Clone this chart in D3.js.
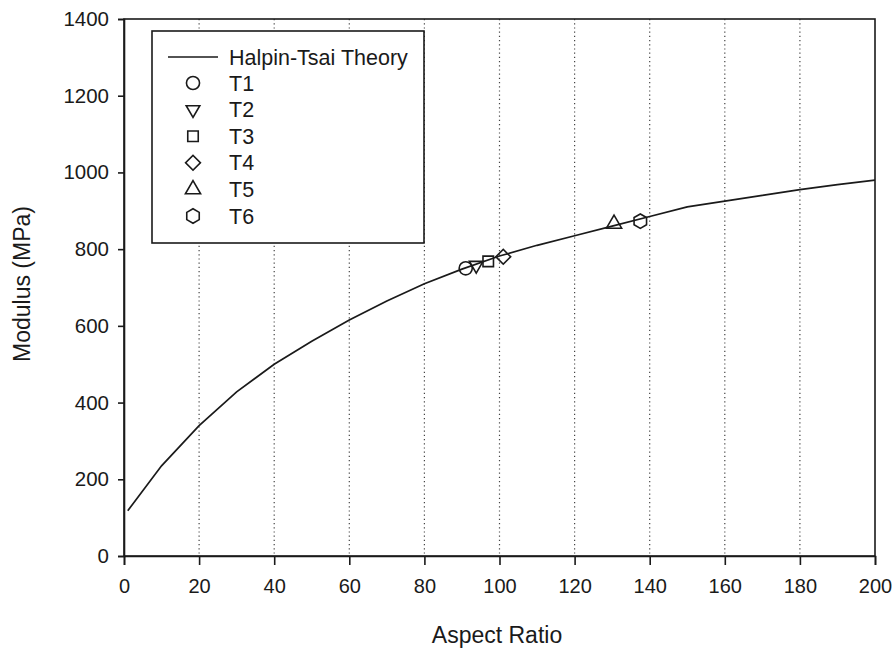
<!DOCTYPE html>
<html>
<head>
<meta charset="utf-8">
<script src="https://cdn.jsdelivr.net/npm/d3@7"></script>
<style>
  body { margin: 0; background: #fff; }
  text { font-family: "Liberation Sans", Arial, sans-serif; fill: #1a1a1a; }
</style>
</head>
<body>
<div class="chart"></div>
<script>
// Halpin-Tsai theory curve (aspect ratio -> modulus, MPa)
const theoryX = [1, 10, 20, 30, 40, 50, 60, 70, 80, 90, 100, 110, 120, 130, 140, 150, 160, 170, 180, 190, 200]
const theoryY = [118, 235, 340, 428, 500, 560, 615, 665, 710, 748, 782, 810, 835, 860, 885, 910, 925, 940, 955, 968, 980]

// measured samples
const sampleNames = ["T1", "T2", "T3", "T4", "T5", "T6"]
const sampleX = [91, 93.8, 97, 101, 130.5, 137.5]
const sampleY = [750, 758, 768, 780, 866, 873]

const xTicks = [0, 20, 40, 60, 80, 100, 120, 140, 160, 180, 200]
const yTicks = [0, 200, 400, 600, 800, 1000, 1200, 1400]

const width = 894
const height = 650
const margin = { top: 19, right: 20, bottom: 94, left: 124 }

const svg = d3
  .select(".chart")
  .append("svg")
  .attr("width", width)
  .attr("height", height)

const x = d3.scaleLinear().domain([0, 200]).range([margin.left, width - margin.right + 1])
const y = d3.scaleLinear().domain([0, 1400]).range([height - margin.bottom, margin.top])

// dotted vertical grid
svg
  .append("g")
  .selectAll("line")
  .data(xTicks.slice(1, -1))
  .join("line")
  .attr("x1", (d) => x(d))
  .attr("x2", (d) => x(d))
  .attr("y1", y(1400))
  .attr("y2", y(0))
  .attr("stroke", "#444")
  .attr("stroke-width", 1.2)
  .attr("stroke-dasharray", "1.2,3")

// frame
svg
  .append("rect")
  .attr("x", x(0))
  .attr("y", y(1400))
  .attr("width", x(200) - x(0))
  .attr("height", y(0) - y(1400))
  .attr("fill", "none")
  .attr("stroke", "#1a1a1a")
  .attr("stroke-width", 1.6)

// axes
const xAxis = svg
  .append("g")
  .attr("transform", `translate(0,${y(0)})`)
  .call(d3.axisBottom(x).tickValues(xTicks).tickFormat(d3.format("d")).tickSize(9).tickPadding(14))
xAxis.selectAll("text").attr("font-size", "20px")

const yAxis = svg
  .append("g")
  .attr("transform", `translate(${x(0)},0)`)
  .call(d3.axisLeft(y).tickValues(yTicks).tickFormat(d3.format("d")).tickSize(6).tickPadding(9))
yAxis.selectAll("text").attr("font-size", "20.5px")

svg.selectAll(".domain").attr("stroke", "#1a1a1a").attr("stroke-width", 1.6)
svg.selectAll(".tick line").attr("stroke", "#1a1a1a").attr("stroke-width", 1.6)
svg.selectAll(".tick text").attr("fill", "#1a1a1a").attr("font-family", "Liberation Sans, Arial, sans-serif")

// axis titles
svg
  .append("text")
  .attr("x", 497)
  .attr("y", 643)
  .attr("text-anchor", "middle")
  .attr("font-size", "23px")
  .text("Aspect Ratio")

svg
  .append("text")
  .attr("transform", `translate(30,${284}) rotate(-90)`)
  .attr("text-anchor", "middle")
  .attr("font-size", "23px")
  .text("Modulus (MPa)")

// theory line
const line = d3
  .line()
  .x((d, i) => x(theoryX[i]))
  .y((d) => y(d))

svg
  .append("path")
  .datum(theoryY)
  .attr("d", line)
  .attr("fill", "none")
  .attr("stroke", "#1a1a1a")
  .attr("stroke-width", 1.7)

// marker shapes
const hexagon = {
  draw(ctx, size) {
    const r = Math.sqrt((size * 2) / (3 * Math.sqrt(3)))
    for (let k = 0; k < 6; k++) {
      const a = (Math.PI / 3) * k + Math.PI / 6
      const px = r * Math.cos(a)
      const py = r * Math.sin(a)
      if (k === 0) ctx.moveTo(px, py)
      else ctx.lineTo(px, py)
    }
    ctx.closePath()
  },
}
const shapes = [
  { type: d3.symbolCircle, size: 135, rot: 0 },
  { type: d3.symbolTriangle, size: 80, rot: 180 },
  { type: d3.symbolSquare, size: 110, rot: 0 },
  { type: d3.symbolSquare, size: 110, rot: 45 },
  { type: d3.symbolTriangle, size: 100, rot: 0 },
  { type: hexagon, size: 135, rot: 0 },
]

function marker(g, i) {
  g.append("path")
    .attr("d", d3.symbol(shapes[i].type, shapes[i].size)())
    .attr("transform", `rotate(${shapes[i].rot})`)
    .attr("fill", "none")
    .attr("stroke", "#1a1a1a")
    .attr("stroke-width", 1.6)
}

sampleNames.forEach((name, i) => {
  const g = svg.append("g").attr("transform", `translate(${x(sampleX[i])},${y(sampleY[i])})`)
  marker(g, i)
})

// legend
const legend = svg.append("g")
legend
  .append("rect")
  .attr("x", 152)
  .attr("y", 31)
  .attr("width", 272)
  .attr("height", 212)
  .attr("fill", "#fff")
  .attr("stroke", "#1a1a1a")
  .attr("stroke-width", 1.6)

legend
  .append("line")
  .attr("x1", 168)
  .attr("x2", 218)
  .attr("y1", 57)
  .attr("y2", 57)
  .attr("stroke", "#1a1a1a")
  .attr("stroke-width", 1.7)

legend
  .append("text")
  .attr("x", 229)
  .attr("y", 57)
  .attr("dy", "0.35em")
  .attr("font-size", "21.5px")
  .text("Halpin-Tsai Theory")

sampleNames.forEach((name, i) => {
  const ly = 83 + i * 26.6
  const g = legend.append("g").attr("transform", `translate(193,${ly})`)
  marker(g, i)
  legend
    .append("text")
    .attr("x", 229)
    .attr("y", ly)
    .attr("dy", "0.35em")
    .attr("font-size", "21.5px")
    .text(name)
})
</script>
</body>
</html>
